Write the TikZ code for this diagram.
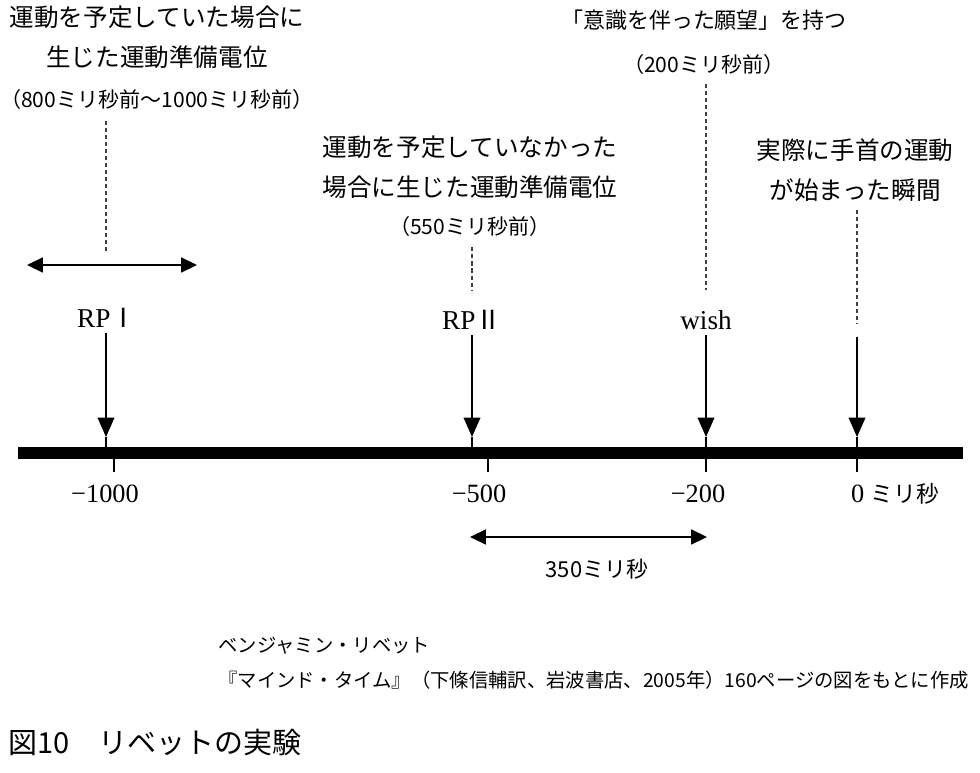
\documentclass[tikz,border=0pt]{standalone}
\usepackage{fontspec}
\setmainfont{Liberation Serif}
\newfontfamily\cjk{Noto Sans CJK JP}
\usetikzlibrary{arrows.meta, positioning}
\tikzset{
    jtext/.style = {
        align=center, inner sep=1pt,
        font=\cjk\fontsize{14}{22.5}\selectfont
    },
    jtime/.style = {
        inner sep=1pt,
        font=\cjk\fontsize{12}{14}\selectfont
    },
    tag/.style = {
        inner sep=1pt,
        font=\fontsize{15.5}{18}\selectfont
    },
    ticklabel/.style = {
        inner sep=1pt,
        font=\fontsize{15}{18}\selectfont
    },
    note/.style = {
        anchor=west, inner sep=0pt,
        font=\cjk\fontsize{11}{13}\selectfont
    },
    guide/.style = {
        line width=0.6pt, black!75,
        dash pattern=on 2.3pt off 1.7pt
    },
    pointer/.style = {
        -{Triangle[length=11pt, width=9.5pt]},
        line width=0.75pt, shorten <=2pt
    },
    stem/.style = {
        line width=0.75pt
    },
    interval/.style = {
        {Triangle[length=9pt, width=8.5pt]}-{Triangle[length=9pt, width=8.5pt]},
        line width=1pt
    },
    axis/.style = {
        line width=6.8pt
    },
    tickmark/.style = {
        line width=0.7pt
    }
}

\begin{document}
\begin{tikzpicture}[x=0.02cm, y=-0.02cm, on grid]
\useasboundingbox (0,0) rectangle (980,773);

% time axis
\coordinate (barL) at (18,453);
\coordinate (barR) at (963,453);
\draw[axis] (barL) -- (barR);

% RP I
\node (rp1txt) [jtext] at (157,37) {運動を予定していた場合に\\生じた運動準備電位};
\node (rp1time) [jtime, below=1.26cm of rp1txt] {（800ミリ秒前～1000ミリ秒前）};
\coordinate (rp1dash) at (106,253);
\coordinate (rp1L) at (27,265);
\coordinate (rp1R) at (197,265);
\draw[guide] ([yshift=-5pt]rp1time.south -| rp1dash) -- (rp1dash);
\draw[interval] (rp1L) -- (rp1R);
\node (rp1) [tag] at (107,318) {RP{\cjk\fontsize{15}{18}\selectfont Ⅰ}};
\coordinate (rp1tip) at (106,437);
\coordinate (rp1bar) at (106,453);
\draw[pointer] (rp1.south -| rp1tip) -- (rp1tip);
\draw[stem] (rp1tip) -- (rp1bar);

% RP II
\node (rp2txt) [jtext] at (470,167) {運動を予定していなかった\\場合に生じた運動準備電位};
\node (rp2time) [jtime, below=1.19cm of rp2txt] {（550ミリ秒前）};
\coordinate (rp2dash) at (472,290);
\draw[guide] ([yshift=-5pt]rp2time.south -| rp2dash) -- (rp2dash);
\node (rp2) [tag] at (472,320) {RP{\cjk\fontsize{15}{18}\selectfont Ⅱ}};
\coordinate (rp2tip) at (472,437);
\coordinate (rp2bar) at (472,453);
\draw[pointer] (rp2.south -| rp2tip) -- (rp2tip);
\draw[stem] (rp2tip) -- (rp2bar);

% wish
\node (wishtxt) [jtime, font=\cjk\fontsize{12.5}{14}\selectfont] at (704,20) {「意識を伴った願望」を持つ};
\node (wishtime) [jtime, below=0.9cm of wishtxt] {（200ミリ秒前）};
\coordinate (wishdash) at (706,290);
\draw[guide] ([yshift=-4pt]wishtime.south -| wishdash) -- (wishdash);
\node (wish) [tag] at (706,320) {wish};
\coordinate (wishtip) at (706,437);
\coordinate (wishbar) at (706,453);
\draw[pointer] (wish) -- (wishtip);
\draw[stem] (wishtip) -- (wishbar);

% movement onset
\node (zerotxt) [jtext] at (855,170) {実際に手首の運動\\が始まった瞬間};
\coordinate (zerodash) at (857,323);
\coordinate (zerotop) at (857,333);
\draw[guide] ([yshift=-4pt]zerotxt.south -| zerodash) -- (zerodash);
\coordinate (zerotip) at (857,437);
\coordinate (zerobar) at (857,453);
\draw[pointer] (zerotop) -- (zerotip);
\draw[stem] (zerotip) -- (zerobar);

% ticks and values
\draw[tickmark] (114,453) -- (114,472);
\draw[tickmark] (488,453) -- (488,472);
\draw[tickmark] (706,453) -- (706,472);
\draw[tickmark] (857,453) -- (857,472);
\node (v1000) [ticklabel] at (105,494) {−1000};
\node (v500) [ticklabel] at (479,494) {−500};
\node (v200) [ticklabel] at (698,494) {−200};
\node (v0) [ticklabel, anchor=west] at (849,494) {0 {\cjk\fontsize{13}{15}\selectfont ミリ秒}};

% 350 ms
\coordinate (gapL) at (470,537);
\coordinate (gapR) at (707,537);
\draw[interval] (gapL) -- (gapR);
\node (gap) [jtime, font=\cjk\fontsize{12.5}{14}\selectfont] at (597,569) {350ミリ秒};

% source and caption
\node (author) [note] at (218,646) {ベンジャミン・リベット};
\node (source) [note] at (218,680) {『マインド・タイム』（下條信輔訳、岩波書店、2005年）160ページの図をもとに作成};
\node (caption) [note, font=\cjk\fontsize{16.5}{18}\selectfont] at (8,743) {図10　リベットの実験};

\end{tikzpicture}
\end{document}
